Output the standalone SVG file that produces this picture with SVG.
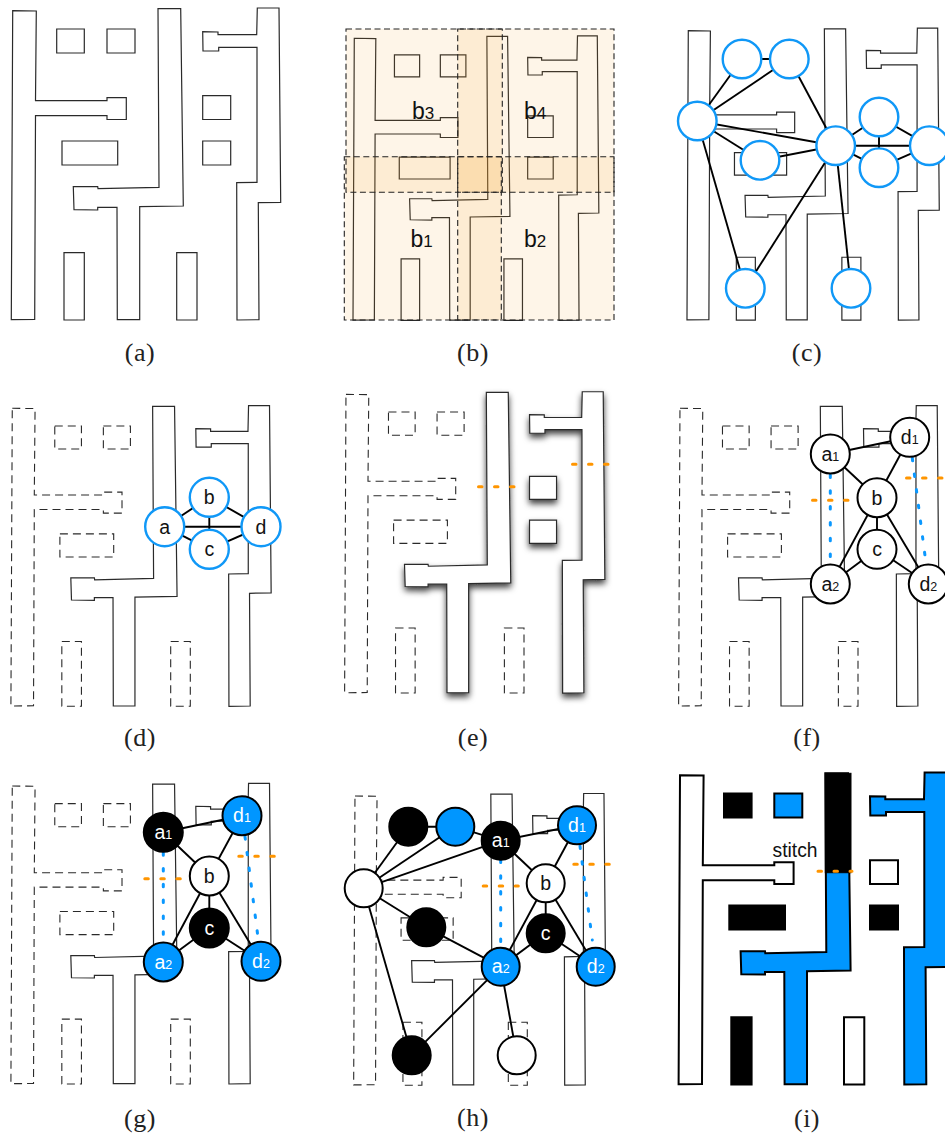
<svg xmlns="http://www.w3.org/2000/svg" xmlns:xlink="http://www.w3.org/1999/xlink" width="945" height="1138" viewBox="0 0 945 1138">
<style>
text{font-family:"Liberation Sans",Arial,sans-serif;fill:#111}
.cap{font-family:"Liberation Serif","Times New Roman",serif;font-size:26px;letter-spacing:.5px;text-anchor:middle;fill:#222}
.sh{vector-effect:non-scaling-stroke}
.s{fill:none;stroke:#2a2a2a;stroke-width:1.2}
.sw{fill:#fff;stroke:#2a2a2a;stroke-width:1.2}
.d{fill:none;stroke:#2a2a2a;stroke-width:1.1;stroke-dasharray:8 5}
.e{stroke:#000;stroke-width:1.9;fill:none}
.e line{stroke:#000}
.cb{fill:#fff;stroke:#1098f7;stroke-width:2.4}
.ck{fill:#fff;stroke:#000;stroke-width:2}
.kk{fill:#000;stroke:#000;stroke-width:2}
.kb{fill:#0096ff;stroke:#000;stroke-width:2}
.l{font-size:19.5px;text-anchor:middle}
.lw{font-size:19.5px;text-anchor:middle;fill:#fff}
.sub{font-size:12.5px}
.or{stroke:#ff9500;stroke-width:3;stroke-linecap:round;stroke-dasharray:3.5 12.5;fill:none}
.bl{stroke:#0a98ff;stroke-width:3;stroke-linecap:round;stroke-dasharray:2.5 13.3;fill:none}
.t{fill:#f8a030;fill-opacity:.11}
.bd{fill:none;stroke:#222;stroke-width:1.1;stroke-dasharray:6 3.5}
.bt{font-size:23px}
.bs{font-size:17px}
.i{stroke:#000;stroke-width:2}
</style>
<defs>
<filter id="shadow" x="-20%" y="-20%" width="140%" height="140%">
<feDropShadow dx="0" dy="4" stdDeviation="3.5" flood-color="#000" flood-opacity=".75"/>
</filter>
<path id="L" class="sh" d="M12.7 10.7L36.3 11L35.5 100.7L107 100.7L107 97.7L126.3 97.7L126.3 119.5L107 119.5L107 115.7L35.5 115.7L34.7 319.5L11.3 319.7Z"/>
<path id="M" class="sh" d="M158 8.7L180.7 8.7L183.3 206L139.7 206.7L139.7 319.7L117.3 319.7L117 207.3L97.7 207.3L97.7 210L74 209.7L73.3 186.7L97.7 186.7L98 188.7L159 187.3Z"/>
<path id="R" class="sh" d="M257.3 8L279 8L280.7 202.3L258.3 202.7L259 319.7L237 320L236.7 182.7L257 182.3L257 47.3L218.7 47.3L218.7 51L203 51L202.7 31.7L218 32L218 34.7L256.7 34.7Z"/>
<rect id="r1" class="sh" x="56.7" y="29" width="27.6" height="24"/>
<rect id="r2" class="sh" x="107" y="29" width="28" height="24"/>
<rect id="r3" class="sh" x="62" y="141" width="55.7" height="24"/>
<rect id="r4" class="sh" x="202.7" y="95.7" width="28" height="23.8"/>
<rect id="r5" class="sh" x="202.7" y="141" width="28" height="24"/>
<rect id="r6" class="sh" x="64" y="252.7" width="20.3" height="67.3"/>
<rect id="r7" class="sh" x="176.7" y="252.7" width="20.3" height="67.3"/>
</defs>

<g id="panel-a">
<g class="s">
<use href="#L"/><use href="#M"/><use href="#R"/><use href="#r1"/><use href="#r2"/><use href="#r3"/><use href="#r4"/><use href="#r5"/><use href="#r6"/><use href="#r7"/>
</g>
<text class="cap" x="140" y="361">(a)</text>
</g>

<g id="panel-b">
<g class="s" transform="matrix(.9125 0 0 .912 342.7 28.5)">
<use href="#L"/><use href="#M"/><use href="#R"/><use href="#r1"/><use href="#r2"/><use href="#r3"/><use href="#r4"/><use href="#r5"/><use href="#r6"/><use href="#r7"/>
</g>
<g id="b-regions">
<rect class="t" x="346" y="29" width="156.3" height="163.3"/>
<rect class="t" x="457.7" y="29" width="156.3" height="163.3"/>
<rect class="t" x="344.3" y="156.7" width="157" height="163.3"/>
<rect class="t" x="457.7" y="156.7" width="156.3" height="163.3"/>
<rect class="bd" x="346" y="29" width="156.3" height="163.3"/>
<rect class="bd" x="457.7" y="29" width="156.3" height="163.3"/>
<rect class="bd" x="344.3" y="156.7" width="157" height="163.3"/>
<rect class="bd" x="457.7" y="156.7" width="156.3" height="163.3"/>
</g>
<text class="bt" x="412" y="119">b<tspan class="bs">3</tspan></text>
<text class="bt" x="524" y="119">b<tspan class="bs">4</tspan></text>
<text class="bt" x="410.5" y="247">b<tspan class="bs">1</tspan></text>
<text class="bt" x="524" y="247">b<tspan class="bs">2</tspan></text>
<text class="cap" x="473" y="361">(b)</text>
</g>

<g id="panel-c">
<g class="s" transform="matrix(.9365 0 0 .936 676.4 20.7)">
<use href="#L"/><use href="#M"/><use href="#R"/><use href="#r3"/><use href="#r6"/><use href="#r7"/>
</g>
<g id="c-edges" class="e">
<line x1="742" y1="59" x2="789.3" y2="59"/><line x1="742" y1="59" x2="697.3" y2="121"/><line x1="789.3" y1="59" x2="697.3" y2="121"/><line x1="789.3" y1="59" x2="835.7" y2="145.7"/><line x1="697.3" y1="121" x2="835.7" y2="145.7"/><line x1="697.3" y1="121" x2="760" y2="160.3"/><line x1="760" y1="160.3" x2="835.7" y2="145.7"/><line x1="697.3" y1="121" x2="745.3" y2="288.3"/><line x1="835.7" y1="145.7" x2="745.3" y2="288.3"/><line x1="835.7" y1="145.7" x2="851" y2="288.3"/><line x1="835.7" y1="145.7" x2="879" y2="117"/><line x1="835.7" y1="145.7" x2="879" y2="167.7"/><line x1="879" y1="117" x2="879" y2="167.7"/><line x1="879" y1="117" x2="929.3" y2="145.7"/><line x1="879" y1="167.7" x2="929.3" y2="145.7"/><line x1="835.7" y1="145.7" x2="929.3" y2="145.7"/>
</g>
<g id="c-n1"><circle class="cb" cx="742" cy="59" r="19.3"/></g>
<g id="c-n2"><circle class="cb" cx="789.3" cy="59" r="19.3"/></g>
<g id="c-n3"><circle class="cb" cx="697.3" cy="121" r="19.3"/></g>
<g id="c-n4"><circle class="cb" cx="835.7" cy="145.7" r="19.3"/></g>
<g id="c-n5"><circle class="cb" cx="879" cy="117" r="19.3"/></g>
<g id="c-n6"><circle class="cb" cx="879" cy="167.7" r="19.3"/></g>
<g id="c-n7"><circle class="cb" cx="929.3" cy="145.7" r="19.3"/></g>
<g id="c-n8"><circle class="cb" cx="760" cy="160.3" r="19.3"/></g>
<g id="c-n9"><circle class="cb" cx="745.3" cy="288.3" r="19.3"/></g>
<g id="c-n10"><circle class="cb" cx="851" cy="288.3" r="19.3"/></g>
<text class="cap" x="807" y="361">(c)</text>
</g>

<g id="panel-d">
<g transform="matrix(.966 0 0 .9634 0 398)">
<g class="d"><use href="#L"/><use href="#r1"/><use href="#r2"/><use href="#r3"/><use href="#r6"/><use href="#r7"/></g>
<g class="s"><use href="#M"/><use href="#R"/></g>
</g>
<g id="d-edges" class="e">
<line x1="164.7" y1="526.7" x2="209.3" y2="497.3"/><line x1="164.7" y1="526.7" x2="209.3" y2="549.3"/><line x1="164.7" y1="526.7" x2="261" y2="526.7"/><line x1="209.3" y1="497.3" x2="209.3" y2="549.3"/><line x1="209.3" y1="497.3" x2="261" y2="526.7"/><line x1="209.3" y1="549.3" x2="261" y2="526.7"/>
</g>
<g id="d-a"><circle class="cb" cx="164.7" cy="526.7" r="19.5"/><text class="l" x="164.7" y="533.5">a</text></g>
<g id="d-b"><circle class="cb" cx="209.3" cy="497.3" r="19.5"/><text class="l" x="209.3" y="504">b</text></g>
<g id="d-c"><circle class="cb" cx="209.3" cy="549.3" r="19.5"/><text class="l" x="209.3" y="555.5">c</text></g>
<g id="d-d"><circle class="cb" cx="261" cy="526.7" r="19.5"/><text class="l" x="261" y="533.5">d</text></g>
<text class="cap" x="140" y="746">(d)</text>
</g>

<g id="panel-e">
<g transform="matrix(.966 0 0 .9657 333.7 384)">
<g class="d"><use href="#L"/><use href="#r1"/><use href="#r2"/><use href="#r3"/><use href="#r6"/><use href="#r7"/></g>
<g class="sw" filter="url(#shadow)"><use href="#M"/><use href="#R"/><use href="#r4"/><use href="#r5"/></g>
</g>
<g id="e-stitches" class="or">
<line x1="478.5" y1="486.7" x2="514.3" y2="486.7"/><line x1="572.5" y1="464.3" x2="608.7" y2="464.3"/>
</g>
<text class="cap" x="473" y="746">(e)</text>
</g>

<g id="panel-f">
<g transform="matrix(.966 0 0 .9634 667.7 398)">
<g class="d"><use href="#L"/><use href="#r1"/><use href="#r2"/><use href="#r3"/><use href="#r6"/><use href="#r7"/></g>
<g class="s"><use href="#M"/><use href="#R"/></g>
</g>
<g id="f-edges" class="e">
<line x1="830.3" y1="454" x2="909.7" y2="437.3"/><line x1="830.3" y1="454" x2="877" y2="497.7"/><line x1="909.7" y1="437.3" x2="877" y2="497.7"/><line x1="877" y1="497.7" x2="877" y2="549.3"/><line x1="877" y1="497.7" x2="830.3" y2="584"/><line x1="877" y1="497.7" x2="928.3" y2="584"/><line x1="877" y1="549.3" x2="830.3" y2="584"/><line x1="877" y1="549.3" x2="928.3" y2="584"/>
</g>
<g id="f-stitch-edges" class="bl">
<line x1="830.3" y1="475" x2="830.3" y2="558"/><line x1="912.3" y1="458.3" x2="925" y2="555.7"/>
</g>
<g id="f-stitches" class="or">
<line x1="812.5" y1="500.3" x2="848.3" y2="500.3"/><line x1="906.5" y1="478" x2="942.7" y2="478"/>
</g>
<g id="f-a1"><circle class="ck" cx="830.3" cy="454" r="19.5"/><text class="l" x="830.3" y="460.5">a<tspan class="sub">1</tspan></text></g>
<g id="f-d1"><circle class="ck" cx="909.7" cy="437.3" r="19.5"/><text class="l" x="909.7" y="444">d<tspan class="sub">1</tspan></text></g>
<g id="f-b"><circle class="ck" cx="877" cy="497.7" r="19.5"/><text class="l" x="877" y="504.5">b</text></g>
<g id="f-c"><circle class="ck" cx="877" cy="549.3" r="19.5"/><text class="l" x="877" y="555.5">c</text></g>
<g id="f-a2"><circle class="ck" cx="830.3" cy="584" r="19.5"/><text class="l" x="830.3" y="590.5">a<tspan class="sub">2</tspan></text></g>
<g id="f-d2"><circle class="ck" cx="928.3" cy="584" r="19.5"/><text class="l" x="928.3" y="590.5">d<tspan class="sub">2</tspan></text></g>
<text class="cap" x="807" y="746">(f)</text>
</g>

<g id="panel-g">
<g transform="matrix(.966 0 0 .9634 0 775.7)">
<g class="d"><use href="#L"/><use href="#r1"/><use href="#r2"/><use href="#r3"/><use href="#r6"/><use href="#r7"/></g>
<g class="s"><use href="#M"/><use href="#R"/></g>
</g>
<g id="g-edges" class="e">
<line x1="163.3" y1="832.3" x2="242" y2="815.7"/><line x1="163.3" y1="832.3" x2="209.3" y2="876"/><line x1="242" y1="815.7" x2="209.3" y2="876"/><line x1="209.3" y1="876" x2="209.3" y2="928"/><line x1="209.3" y1="876" x2="163.3" y2="962"/><line x1="209.3" y1="876" x2="261" y2="961.3"/><line x1="209.3" y1="928" x2="163.3" y2="962"/><line x1="209.3" y1="928" x2="261" y2="961.3"/>
</g>
<g id="g-stitch-edges" class="bl">
<line x1="163.3" y1="852.7" x2="163.3" y2="936.7"/><line x1="245" y1="836.7" x2="257.7" y2="935"/>
</g>
<g id="g-stitches" class="or">
<line x1="144.8" y1="878.7" x2="180.7" y2="878.7"/><line x1="238.8" y1="856.3" x2="274.7" y2="856.3"/>
</g>
<g id="g-a1"><circle class="kk" cx="163.3" cy="832.3" r="19.5"/><text class="lw" x="163.3" y="838.5">a<tspan class="sub">1</tspan></text></g>
<g id="g-d1"><circle class="kb" cx="242" cy="815.7" r="19.5"/><text class="lw" x="242" y="822">d<tspan class="sub">1</tspan></text></g>
<g id="g-b"><circle class="ck" cx="209.3" cy="876" r="19.5"/><text class="l" x="209.3" y="882.5">b</text></g>
<g id="g-c"><circle class="kk" cx="209.3" cy="928" r="19.5"/><text class="lw" x="209.3" y="934.5">c</text></g>
<g id="g-a2"><circle class="kb" cx="163.3" cy="962" r="19.5"/><text class="lw" x="163.3" y="968.5">a<tspan class="sub">2</tspan></text></g>
<g id="g-d2"><circle class="kb" cx="261" cy="961.3" r="19.5"/><text class="lw" x="261" y="968">d<tspan class="sub">2</tspan></text></g>
<text class="cap" x="140" y="1127">(g)</text>
</g>

<g id="panel-h">
<g transform="matrix(.935 0 0 .935 343.1 786)">
<g class="d"><use href="#L"/><use href="#r3"/><use href="#r6"/><use href="#r7"/></g>
<g class="s"><use href="#M"/><use href="#R"/></g>
</g>
<g id="h-edges" class="e">
<line x1="408.3" y1="826.7" x2="455.3" y2="826.7"/><line x1="408.3" y1="826.7" x2="363.7" y2="888.3"/><line x1="455.3" y1="826.7" x2="363.7" y2="888.3"/><line x1="455.3" y1="826.7" x2="500.7" y2="840.7"/><line x1="500.7" y1="840.7" x2="363.7" y2="888.3"/><line x1="363.7" y1="888.3" x2="426.3" y2="927.3"/><line x1="426.3" y1="927.3" x2="500.7" y2="966.7"/><line x1="363.7" y1="888.3" x2="411.7" y2="1055.3"/><line x1="411.7" y1="1055.3" x2="500.7" y2="966.7"/><line x1="500.7" y1="966.7" x2="516.7" y2="1055.3"/><line x1="500.7" y1="840.7" x2="577" y2="825.3"/><line x1="500.7" y1="840.7" x2="545.7" y2="883.3"/><line x1="577" y1="825.3" x2="545.7" y2="883.3"/><line x1="545.7" y1="883.3" x2="545.7" y2="933.3"/><line x1="545.7" y1="883.3" x2="500.7" y2="966.7"/><line x1="545.7" y1="883.3" x2="595.7" y2="966.7"/><line x1="545.7" y1="933.3" x2="500.7" y2="966.7"/><line x1="545.7" y1="933.3" x2="595.7" y2="966.7"/>
</g>
<g id="h-stitch-edges" class="bl">
<line x1="500.7" y1="860" x2="500.7" y2="943"/><line x1="580" y1="846" x2="592.3" y2="940"/>
</g>
<g id="h-stitches" class="or">
<line x1="483.2" y1="886" x2="518.3" y2="886"/><line x1="573.8" y1="864.3" x2="609.3" y2="864.3"/>
</g>
<g id="h-n1"><circle class="kk" cx="408.3" cy="826.7" r="19"/></g>
<g id="h-n2"><circle class="kb" cx="455.3" cy="826.7" r="19"/></g>
<g id="h-n3"><circle class="ck" cx="363.7" cy="888.3" r="19"/></g>
<g id="h-n4"><circle class="kk" cx="426.3" cy="927.3" r="19"/></g>
<g id="h-n5"><circle class="kk" cx="411.7" cy="1055.3" r="19"/></g>
<g id="h-n6"><circle class="ck" cx="516.7" cy="1055.3" r="19"/></g>
<g id="h-a1"><circle class="kk" cx="500.7" cy="840.7" r="19"/><text class="lw" x="500.7" y="847">a<tspan class="sub">1</tspan></text></g>
<g id="h-d1"><circle class="kb" cx="577" cy="825.3" r="19"/><text class="lw" x="577" y="832">d<tspan class="sub">1</tspan></text></g>
<g id="h-b"><circle class="ck" cx="545.7" cy="883.3" r="19"/><text class="l" x="545.7" y="890">b</text></g>
<g id="h-c"><circle class="kk" cx="545.7" cy="933.3" r="19"/><text class="lw" x="545.7" y="939.5">c</text></g>
<g id="h-a2"><circle class="kb" cx="500.7" cy="966.7" r="19"/><text class="lw" x="500.7" y="973">a<tspan class="sub">2</tspan></text></g>
<g id="h-d2"><circle class="kb" cx="595.7" cy="966.7" r="19"/><text class="lw" x="595.7" y="973">d<tspan class="sub">2</tspan></text></g>
<text class="cap" x="473" y="1126">(h)</text>
</g>

<g id="panel-i">
<g class="i" transform="translate(667.3 764.6)">
<use href="#L" fill="#fff"/>
<use href="#M" fill="#0096ff"/>
<use href="#R" fill="#0096ff"/>
<use href="#r1" fill="#000"/>
<use href="#r2" fill="#0096ff"/>
<use href="#r3" fill="#000"/>
<use href="#r4" fill="#fff"/>
<use href="#r5" fill="#000"/>
<use href="#r6" fill="#000"/>
<use href="#r7" fill="#fff"/>
</g>
<rect x="825.3" y="773.3" width="25.7" height="99.4" fill="#000" stroke="#000" stroke-width="1"/>
<g id="i-stitches" class="or"><line x1="818" y1="871.3" x2="852" y2="871.3"/></g>
<text x="772.5" y="856.5" font-size="19.3">stitch</text>
<text class="cap" x="807" y="1127">(i)</text>
</g>
</svg>
